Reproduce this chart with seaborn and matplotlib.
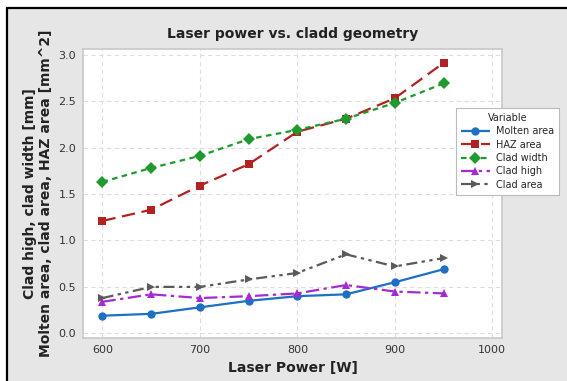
import matplotlib
matplotlib.use("Agg")
import matplotlib.pyplot as plt
import seaborn as sns
import pandas as pd
from matplotlib.patches import Rectangle

# values
power = [600, 650, 700, 750, 800, 850, 900, 950]
molten_area = [0.19, 0.21, 0.28, 0.35, 0.40, 0.42, 0.55, 0.69]
haz_area = [1.21, 1.33, 1.59, 1.82, 2.17, 2.31, 2.53, 2.91]
clad_width = [1.63, 1.78, 1.91, 2.09, 2.19, 2.31, 2.48, 2.69]
clad_high = [0.34, 0.42, 0.38, 0.40, 0.43, 0.52, 0.45, 0.43]
clad_area = [0.38, 0.50, 0.50, 0.58, 0.65, 0.85, 0.72, 0.81]

names = ["Molten area", "HAZ area", "Clad width", "Clad high", "Clad area"]
colors = ["#1f6fc4", "#b22222", "#1e9a2e", "#a52bd1", "#5a5a5a"]
markers = ["o", "s", "D", "^", ">"]
dashes = [(1, 0), (6, 3), (2.5, 2), (6, 2, 1.5, 2), (5, 2, 1.5, 2, 1.5, 2)]

df = pd.DataFrame({"Laser Power": power, "Molten area": molten_area,
                   "HAZ area": haz_area, "Clad width": clad_width,
                   "Clad high": clad_high, "Clad area": clad_area})
long = df.melt(id_vars="Laser Power", var_name="Variable", value_name="value")

sns.set_style("white")
plt.rcParams['font.family'] = ['DejaVu Sans']

fig = plt.figure(figsize=(5.67, 3.81), dpi=100)
fig.patch.set_facecolor("white")
# grey panel with black frame
fig.patches.append(Rectangle((7 / 567, -0.05), 1.0, 1 - 8 / 381 + 0.05,
                             transform=fig.transFigure, facecolor="#e6e6e6",
                             edgecolor="black", linewidth=1.6, zorder=-10))

ax = fig.add_axes([83 / 567, 1 - 338 / 381, 419 / 567, 289 / 381])
ax.set_facecolor("white")

sns.lineplot(data=long, x="Laser Power", y="value", hue="Variable", style="Variable",
             hue_order=names, style_order=names, palette=colors, markers=markers,
             dashes=dashes, markersize=6, linewidth=1.6, markeredgewidth=0, ax=ax)

ax.set_xlim(580, 1010)
ax.set_ylim(-0.05, 3.06)
ax.set_xticks([600, 700, 800, 900, 1000])
ax.set_yticks([0.0, 0.5, 1.0, 1.5, 2.0, 2.5, 3.0])
ax.set_yticklabels(["0.0", "0.5", "1.0", "1.5", "2.0", "2.5", "3.0"])
ax.grid(True, color="#dddddd", linestyle=(0, (4, 3)), linewidth=0.8)
for s in ax.spines.values():
    s.set_color("#c8c8c8")
    s.set_linewidth(1.2)
ax.tick_params(axis="both", labelsize=8, colors="#333333", length=3, width=0.6, pad=2)
for t in ax.get_xticklabels() + ax.get_yticklabels():
    t.set_color("#333333")

ax.set_xlabel("Laser Power [W]", fontsize=10, fontweight="bold", color="#222222", labelpad=4)
ax.set_ylabel("Clad high, clad width [mm]\nMolten area, clad area, HAZ area [mm^2]",
              fontsize=10, fontweight="bold", color="#222222", labelpad=4, linespacing=1.2)
ax.set_title("Laser power vs. cladd geometry", fontsize=10, fontweight="bold",
             color="#222222", pad=8)

leg = ax.legend(title="Variable", loc="upper left", bbox_to_anchor=(451 / 567, 1 - 103 / 381),
                bbox_transform=fig.transFigure, fontsize=7, title_fontsize=7,
                frameon=True, fancybox=False, edgecolor="#bbbbbb", framealpha=1,
                handlelength=3, borderpad=0.5, labelspacing=0.35, handletextpad=0.6)
leg.get_frame().set_linewidth(0.8)

fig.savefig("out.png", dpi=100)
